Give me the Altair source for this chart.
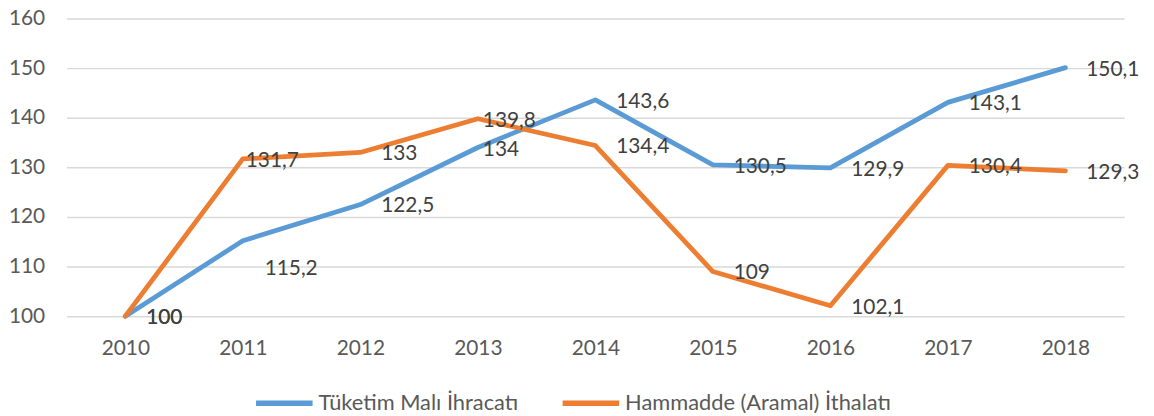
import altair as alt
import pandas as pd

years = ["2010", "2011", "2012", "2013", "2014", "2015", "2016", "2017", "2018"]
tuketim = [100, 115.2, 122.5, 134, 143.6, 130.5, 129.9, 143.1, 150.1]
hammadde = [100, 131.7, 133, 139.8, 134.4, 109, 102.1, 130.4, 129.3]
series_names = ["Tüketim Malı İhracatı", "Hammadde (Aramal) İthalatı"]
colors = ["#5B9BD5", "#ED7D31"]

rows = []
for name, vals in zip(series_names, [tuketim, hammadde]):
    for y, v in zip(years, vals):
        rows.append({"year": y, "value": v, "series": name})
df = pd.DataFrame(rows)

FONT = "Lato"
FS = 21

x = alt.X("year:N", title=None, sort=years,
          axis=alt.Axis(labelAngle=0, labelFontSize=FS, labelColor="#595959", labelFont=FONT,
                        domain=False, ticks=False, labelPadding=22, grid=False))
y = alt.Y("value:Q", title=None,
          scale=alt.Scale(domain=[100, 160], nice=False, zero=False),
          axis=alt.Axis(values=[100, 110, 120, 130, 140, 150, 160], labelFontSize=FS,
                        labelColor="#595959", labelFont=FONT, domain=False, ticks=False,
                        labelPadding=22, gridColor="#D9D9D9", gridWidth=1.5))
color = alt.Color("series:N", sort=series_names,
                  scale=alt.Scale(domain=series_names, range=colors),
                  legend=alt.Legend(title=None, orient="none", legendX=188, legendY=356,
                                    direction="horizontal", symbolType="stroke",
                                    symbolStrokeWidth=5.5, symbolSize=3249,
                                    labelFontSize=22, labelFont=FONT, labelColor="#595959",
                                    columnPadding=33, labelOffset=3, labelLimit=400))

base = alt.Chart(df)

lines = base.mark_line(strokeWidth=4.8, strokeCap="round", strokeJoin="round").encode(
    x=x, y=y, color=color, order=alt.Order("series:N"))

lab = base.transform_calculate(
    lbl="replace(toString(datum.value), '.', ',')",
    key="datum.series + '|' + datum.year")

exceptions = {
    series_names[0] + "|2011": (22, 28),
    series_names[0] + "|2013": (5, 3),
    series_names[1] + "|2011": (3, 2),
    series_names[1] + "|2013": (5, 2),
}

def text_layer(dx, dy, flt):
    return lab.transform_filter(flt).mark_text(
        align="left", baseline="middle", dx=dx, dy=dy, fontSize=FS, font=FONT, color="#404040"
    ).encode(x=alt.X("year:N", sort=years), y=alt.Y("value:Q"), text="lbl:N")

ex_keys = list(exceptions.keys())
main_filter = "indexof(" + str(ex_keys).replace("'", '"') + ", datum.key) < 0"
layers = [lines, text_layer(21, 2, main_filter)]
for k, (dx, dy) in exceptions.items():
    layers.append(text_layer(dx, dy, "datum.key == '" + k + "'"))

chart = alt.layer(*layers).properties(
    width=1066, height=300,
    autosize=alt.AutoSizeParams(type="none"),
    padding={"left": 59, "top": 9, "right": 22, "bottom": 98},
).configure_view(stroke=None)

chart.save("out.html", embed_options={"renderer": "svg", "actions": False})
